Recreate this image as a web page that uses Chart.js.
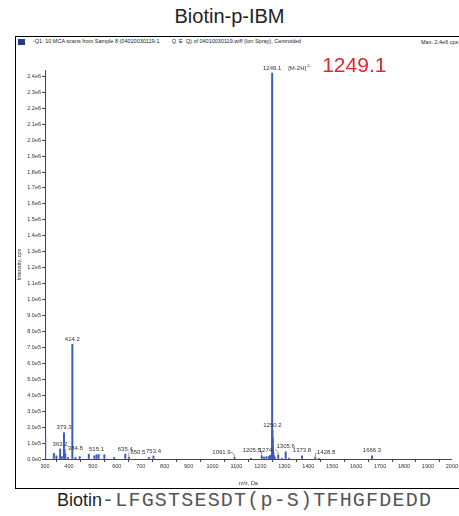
<!DOCTYPE html>
<html>
<head>
<meta charset="utf-8">
<script src="https://cdn.jsdelivr.net/npm/chart.js@4/dist/chart.umd.min.js"></script>
<style>
  body { margin: 0; width: 459px; height: 516px; overflow: hidden; background: #fff; position: relative; font-family: "Liberation Sans", Arial, sans-serif; }
  #title { position: absolute; top: 5px; left: 0; width: 459px; text-align: center; font-size: 20px; color: #231f20; }
  #frame { position: absolute; left: 15px; top: 36px; width: 470px; height: 451px; border: 1px solid #000; }
  #hdr { position: absolute; left: 18px; top: 38px; font-size: 5.5px; color: #222; white-space: nowrap; }
  #hdr .sq { display: inline-block; width: 7px; height: 6px; background: #1f3a93; margin-right: 8px; vertical-align: middle; }
  #max { position: absolute; left: 421px; top: 39px; font-size: 5.5px; color: #222; white-space: nowrap; }
  #chart { position: absolute; left: 16px; top: 37px; }
  #seq { position: absolute; top: 489px; left: 57px; white-space: nowrap; color: #333; }
  #seq .b { font-family: "Liberation Sans", Arial, sans-serif; font-size: 18px; color: #231f20; }
  #seq .m { font-family: "Liberation Mono", "DejaVu Sans Mono", monospace; font-size: 20px; letter-spacing: 1.2px; color: #555; }
</style>
</head>
<body>
<div id="title">Biotin-p-IBM</div>
<div id="frame"></div>
<div id="hdr"><span class="sq"></span>-Q1: 10 MCA scans from Sample 8 (04010030119-1&nbsp;&nbsp;&nbsp;&nbsp;&nbsp;&nbsp;&nbsp;&nbsp;Q&nbsp;&nbsp;E&nbsp;&nbsp;Q) of 04010030119.wiff (Ion Spray), Centroided</div>
<div id="max">Max. 2.4e6 cps</div>
<canvas id="chart" width="443" height="450"></canvas>
<div id="seq"><span class="b">Biotin</span><span class="m">-LFGSTSESDT(p-S)TFHGFDEDD</span></div>
<script>
// m/z values of the centroided peaks
const mz = [301, 337, 348, 363.2, 370, 379.3, 384.8, 396, 414.2, 427, 445, 483, 506, 515.1, 524, 548, 589,
  635.4, 650.5, 734, 753.4, 1091.9, 1160, 1205.5, 1215, 1225, 1235, 1240, 1245, 1247,
  1249.1, 1250.2, 1251.2, 1252.2, 1253.2, 1254.2, 1256, 1260, 1274.4, 1290, 1305.6, 1320,
  1373.8, 1428.8, 1446, 1666.3];
// intensity, cps
const intensity = [136000, 35000, 20000, 63000, 15000, 165000, 33000, 10000, 720000, 10000, 15000, 30000, 20000, 27000, 28000, 27000, 10000,
  31000, 10000, 10000, 19000, 10000, 5000, 20000, 12000, 15000, 15000, 22000, 18000, 30000,
  2420000, 180000, 130000, 75000, 55000, 35000, 20000, 12000, 25000, 5000, 45000, 6000,
  20000, 10000, 5000, 20000];
// peaks that carry an m/z label
const labeledPeaks = [363.2, 379.3, 384.8, 414.2, 515.1, 635.4, 650.5, 753.4, 1091.9, 1205.5, 1249.1, 1250.2, 1274.4, 1305.6, 1373.8, 1428.8, 1666.3];
const peakLabels = ['363.2', '379.3', '384.8', '414.2', '515.1', '635.4', '650.5', '753.4', '1091.9', '1205.5', '1249.1', '1250.2', '1274.', '1305.6', '1373.8', '1428.8', '1666.3'];
// axis ticks
const xTicks = [300, 400, 500, 600, 700, 800, 900, 1000, 1100, 1200, 1300, 1400, 1500, 1600, 1700, 1800, 1900, 2000];
const yTicks = [0, 1e5, 2e5, 3e5, 4e5, 5e5, 6e5, 7e5, 8e5, 9e5, 1.0e6, 1.1e6, 1.2e6, 1.3e6, 1.4e6, 1.5e6, 1.6e6, 1.7e6,
  1.8e6, 1.9e6, 2.0e6, 2.1e6, 2.2e6, 2.3e6, 2.4e6];

// label offsets (px) for labels moved aside with a leader
const labelShift = { 384.8: 10, 650.5: 9, 1091.9: -13, 1205.5: -10, 1274.4: -12, 1428.8: 11 };

const peakLabelPlugin = {
  id: 'peakLabels',
  afterDatasetsDraw(chart) {
    const ctx = chart.ctx;
    const meta = chart.getDatasetMeta(0);
    ctx.save();
    ctx.font = '6px "Liberation Sans", Arial, sans-serif';
    ctx.fillStyle = '#333';
    ctx.strokeStyle = '#555';
    ctx.lineWidth = 0.6;
    ctx.textAlign = 'center';
    ctx.textBaseline = 'bottom';
    labeledPeaks.forEach((m, k) => {
      const el = meta.data[mz.indexOf(m)];
      const dx = labelShift[m] || 0;
      const ty = el.y - 2;
      ctx.fillText(peakLabels[k], el.x + dx, ty);
      if (dx) {
        ctx.beginPath();
        const ex = el.x + dx + (dx > 0 ? -9 : 9);
        ctx.moveTo(ex, ty - 3);
        ctx.quadraticCurveTo(el.x, ty - 3, el.x, el.y);
        ctx.stroke();
      }
    });
    // charge state and highlight of the base peak
    const base = meta.data[mz.indexOf(1249.1)];
    ctx.textAlign = 'left';
    ctx.fillText('[M-2H]', base.x + 16, base.y - 2);
    ctx.font = '4px "Liberation Sans", Arial, sans-serif';
    ctx.fillText('2-', base.x + 35, base.y - 5);
    ctx.font = '21px "Liberation Sans", Arial, sans-serif';
    ctx.fillStyle = '#e2262b';
    ctx.textBaseline = 'middle';
    ctx.fillText('1249.1', base.x + 50, base.y - 7);
    ctx.restore();
  }
};

const fmtY = v => v === 0 ? '0.0e0' : (v < 1e6 ? (v / 1e5).toFixed(1) + 'e5' : (v / 1e6).toFixed(1) + 'e6');

new Chart(document.getElementById('chart'), {
  type: 'bar',
  data: {
    datasets: [{
      data: mz.map((m, i) => ({ x: m, y: intensity[i] })),
      backgroundColor: '#3a57c6',
      borderWidth: 0,
      barThickness: 1.3,
      grouped: false
    }]
  },
  options: {
    responsive: false,
    animation: false,
    devicePixelRatio: 1,
    layout: { padding: { top: 33, right: 2, left: 0, bottom: 0 } },
    plugins: { legend: { display: false }, tooltip: { enabled: false }, title: { display: false } },
    scales: {
      x: {
        type: 'linear',
        min: 300,
        max: 2000,
        offset: false,
        afterFit: s => { s.height = 28; },
        afterBuildTicks: s => { s.ticks = xTicks.map(v => ({ value: v })); },
        border: { color: '#444', width: 1 },
        grid: { drawOnChartArea: false, tickLength: 3, color: '#444' },
        ticks: { font: { size: 5.5, family: '"Liberation Sans", Arial' }, color: '#333', padding: 1, maxRotation: 0, autoSkip: false, callback: v => String(v) },
        title: { display: true, text: 'm/z, Da', font: { size: 5.5, family: '"Liberation Sans", Arial' }, color: '#333', padding: { top: 1, bottom: 0 } }
      },
      y: {
        min: 0,
        max: 2440000,
        afterFit: s => { s.width = 29; },
        afterBuildTicks: s => { s.ticks = yTicks.map(v => ({ value: v })); },
        border: { color: '#444', width: 1 },
        grid: { drawOnChartArea: false, tickLength: 3, color: '#444' },
        ticks: { font: { size: 5.5, family: '"Liberation Sans", Arial' }, color: '#333', padding: 1, autoSkip: false, callback: v => fmtY(v) },
        title: { display: true, text: 'Intensity, cps', font: { size: 5.5, family: '"Liberation Sans", Arial' }, color: '#333', padding: 0 }
      }
    }
  },
  plugins: [peakLabelPlugin]
});
</script>
</body>
</html>
